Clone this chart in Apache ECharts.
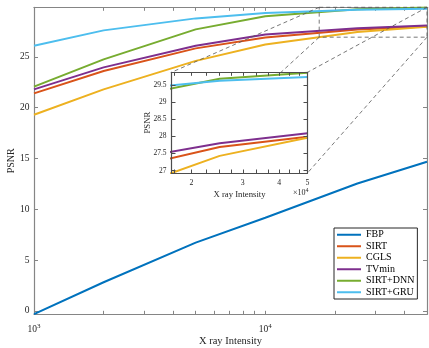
<!DOCTYPE html>
<html>
<head>
<meta charset="utf-8">
<script src="https://cdn.jsdelivr.net/npm/echarts@6/dist/echarts.min.js"></script>
<style>
html, body { margin: 0; padding: 0; background: #fff; }
#chart { width: 429px; height: 348px; }
</style>
</head>
<body>
<div id="chart"></div>
<script>
// x ray intensity levels and PSNR per method
const intensity = [1000, 2000, 5000, 10000, 25000, 50000];
const methods = ['FBP', 'SIRT', 'CGLS', 'TVmin', 'SIRT+DNN', 'SIRT+GRU'];
const fbp = [-0.32, 2.82, 6.72, 9.17, 12.54, 14.68];
const sirt = [21.4, 23.6, 25.83, 26.9, 27.69, 27.99];
const cgls = [19.3, 21.8, 24.6, 26.22, 27.43, 27.96];
const tvmin = [21.8, 23.96, 26.09, 27.2, 27.8, 28.09];
const sirtDnn = [22.06, 24.75, 27.7, 29.0, 29.68, 29.86];
const sirtGru = [26.09, 27.6, 28.78, 29.3, 29.62, 29.73];
const psnr = [fbp, sirt, cgls, tvmin, sirtDnn, sirtGru];
const colors = ['#0072BD', '#D95319', '#EDB120', '#7E2F8E', '#77AC30', '#4DBEEE'];

// axes
const mainX = [1000, 50000];
const mainY = [-0.33, 29.87];
const yTicks = [0, 5, 10, 15, 20, 25];
const xLabelTicks = [1000, 10000];
const xTicks = [1000, 2000, 3000, 4000, 5000, 6000, 7000, 8000, 9000, 10000, 20000, 30000, 40000, 50000];
const zoomX = [17100, 50000];
const zoomY = [26.93, 29.87];
const insetYTicks = [27, 27.5, 28, 28.5, 29, 29.5];
const insetXLabelTicks = [20000, 30000, 40000, 50000];
const insetXTicks = [17500, 20000, 22500, 25000, 27500, 30000, 33300, 36700, 40000, 43300, 46700, 50000];

const font = 'Liberation Serif';
const chart = echarts.init(document.getElementById('chart'));

function xAxis(grid, pos, range, ticks, labelTicks, color, extra) {
  return Object.assign({
    type: 'log', logBase: 10, gridIndex: grid, position: pos,
    min: range[0], max: range[1], nameMoveOverlap: false,
    axisLine: { show: true, onZero: false, lineStyle: { color: color, width: 1.2 } },
    axisTick: { show: true, inside: true, length: 3.5, customValues: ticks, lineStyle: { color: color } },
    axisLabel: { show: false },
    splitLine: { show: false }
  }, extra || {});
}

function yAxis(grid, pos, range, ticks, color, extra) {
  return Object.assign({
    type: 'value', gridIndex: grid, position: pos,
    min: range[0], max: range[1], nameMoveOverlap: false,
    axisLine: { show: true, onZero: false, lineStyle: { color: color, width: 1.2 } },
    axisTick: { show: true, inside: true, length: 4, customValues: ticks, lineStyle: { color: color } },
    axisLabel: { show: false },
    splitLine: { show: false }
  }, extra || {});
}

const mainAxisColor = '#858585';
const insetAxisColor = '#4d4d4d';

const series = [];
psnr.forEach((vals, i) => {
  series.push({
    name: methods[i], type: 'line', xAxisIndex: 0, yAxisIndex: 0,
    data: intensity.map((x, j) => [x, vals[j]]),
    symbol: 'none', lineStyle: { width: 2, color: colors[i] }, itemStyle: { color: colors[i] },
    z: 2
  });
});
psnr.forEach((vals, i) => {
  series.push({
    name: methods[i], type: 'line', xAxisIndex: 2, yAxisIndex: 2,
    data: intensity.map((x, j) => [x, vals[j]]),
    symbol: 'none', lineStyle: { width: 2, color: colors[i] }, itemStyle: { color: colors[i] },
    z: 4
  });
});

chart.setOption({
  animation: false,
  textStyle: { fontFamily: font },
  grid: [
    { left: 34, right: 2, top: 7.3, bottom: 33.7, outerBoundsMode: 'none', containLabel: false },
    { left: 171.5, top: 72.3, width: 136, height: 100.7, show: true, backgroundColor: '#fff', borderWidth: 0, z: 3,
      outerBoundsMode: 'none', containLabel: false }
  ],
  xAxis: [
    xAxis(0, 'bottom', mainX, xTicks, xLabelTicks, mainAxisColor, {
      name: 'X ray Intensity', nameLocation: 'middle', nameGap: 21,
      nameTextStyle: { fontSize: 10.5, color: '#262626', fontFamily: font },
      axisLabel: {
        show: true, customValues: xLabelTicks, margin: 8, color: '#262626', fontSize: 9.5, fontFamily: font,
        formatter: v => '10{s|' + Math.round(Math.log10(v)) + '}',
        rich: { s: { fontSize: 7, fontFamily: font, color: '#262626', padding: [0, 0, 7, 0] } }
      }
    }),
    xAxis(0, 'top', mainX, xTicks, null, mainAxisColor),
    xAxis(1, 'bottom', zoomX, insetXTicks, insetXLabelTicks, insetAxisColor, {
      z: 5,
      name: 'X ray Intensity', nameLocation: 'middle', nameGap: 17,
      nameTextStyle: { fontSize: 8.7, color: '#262626', fontFamily: font },
      axisLabel: {
        show: true, customValues: insetXLabelTicks, margin: 6, color: '#262626', fontSize: 7.8, fontFamily: font,
        formatter: v => String(Math.round(v / 10000))
      }
    }),
    xAxis(1, 'top', zoomX, insetXTicks, null, insetAxisColor, { z: 5 })
  ],
  yAxis: [
    yAxis(0, 'left', mainY, yTicks, mainAxisColor, {
      name: 'PSNR', nameLocation: 'middle', nameGap: 18, nameRotate: 90,
      nameTextStyle: { fontSize: 10, color: '#262626', fontFamily: font },
      axisLabel: { show: true, customValues: yTicks, margin: 4.5, color: '#262626', fontSize: 9.5, fontFamily: font }
    }),
    yAxis(0, 'right', mainY, yTicks, mainAxisColor),
    yAxis(1, 'left', zoomY, insetYTicks, insetAxisColor, {
      z: 5,
      name: 'PSNR', nameLocation: 'middle', nameGap: 19.5, nameRotate: 90,
      nameTextStyle: { fontSize: 8.7, color: '#262626', fontFamily: font },
      axisLabel: { show: true, customValues: insetYTicks, margin: 5, color: '#262626', fontSize: 7.5, fontFamily: font }
    }),
    yAxis(1, 'right', zoomY, insetYTicks, insetAxisColor, { z: 5 })
  ],
  legend: {
    data: methods, orient: 'vertical', left: 334, top: 228,
    padding: [1, 3, 1, 2], itemGap: 0, itemWidth: 24, itemHeight: 11.5,
    backgroundColor: '#fff', borderColor: '#262626', borderWidth: 1,
    itemStyle: { opacity: 0, borderWidth: 0 },
    textStyle: { fontSize: 10, color: '#000', fontFamily: font, lineHeight: 11.5 },
    z: 6
  },
  series: series
});

// zoom rectangle and connectors, placed through the axes' own scales
const mainPx = pt => chart.convertToPixel({ xAxisIndex: 0, yAxisIndex: 0 }, pt);
const insetPx = pt => chart.convertToPixel({ xAxisIndex: 2, yAxisIndex: 2 }, pt);
const corners = [
  [zoomX[0], zoomY[1]], [zoomX[1], zoomY[1]], [zoomX[0], zoomY[0]], [zoomX[1], zoomY[0]]
];
const dash = { stroke: '#555', lineWidth: 0.8, lineDash: [4, 3], fill: null };
const graphics = [];
const r0 = mainPx(corners[0]), r3 = mainPx(corners[3]);
graphics.push({
  type: 'rect', z: 2.5, silent: true,
  shape: { x: r0[0], y: r0[1], width: r3[0] - r0[0], height: r3[1] - r0[1] },
  style: dash
});
corners.forEach(c => {
  const a = mainPx(c), b = insetPx(c);
  graphics.push({
    type: 'line', z: 2.5, silent: true,
    shape: { x1: a[0], y1: a[1], x2: b[0], y2: b[1] },
    style: dash
  });
});
const ib = insetPx(corners[3]);
graphics.push({
  type: 'text', z: 6, silent: true, x: ib[0] + 1, y: ib[1] + 20,
  style: {
    text: '×10{s|4}', align: 'right', verticalAlign: 'middle',
    fontFamily: font, fontSize: 8, fill: '#262626',
    rich: { s: { fontSize: 6, fontFamily: font, fill: '#262626', padding: [0, 0, 6, 0] } }
  }
});
chart.setOption({ graphic: graphics });
</script>
</body>
</html>
